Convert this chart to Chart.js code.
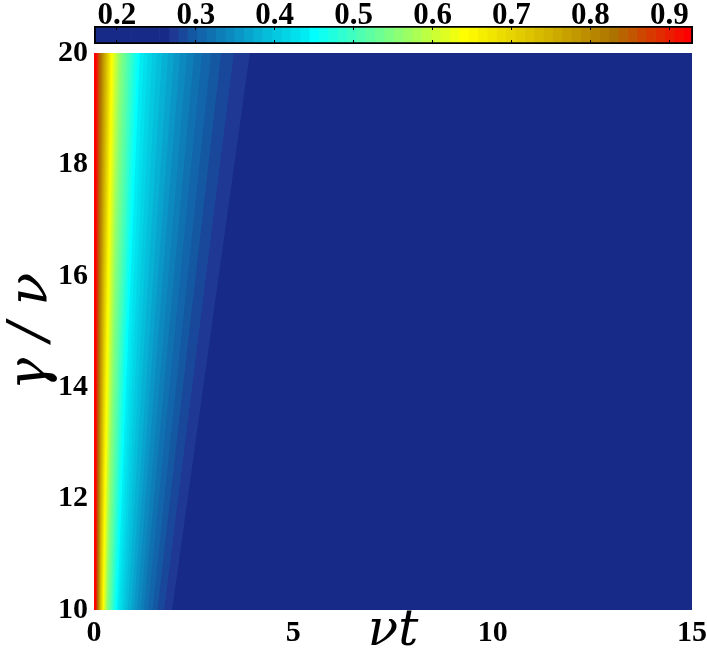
<!DOCTYPE html>
<html>
<head>
<meta charset="utf-8">
<script src="https://cdn.jsdelivr.net/npm/chart.js@4"></script>
<style>
  html, body { margin: 0; padding: 0; background: #fff; }
  #wrap { position: relative; width: 707px; height: 667px; }
  #wrap canvas { position: absolute; left: 0; top: 0; }
</style>
</head>
<body>
<div id="wrap">
  <canvas id="mapChart" width="707" height="667"></canvas>
  <canvas id="barChart" width="707" height="50"></canvas>
</div>
<script>
// axes
const X_TICKS = [0, 5, 10, 15];
const Y_TICKS = [10, 12, 14, 16, 18, 20];
const CB_TICKS = [0.2, 0.3, 0.4, 0.5, 0.6, 0.7, 0.8, 0.9];
const CB_MIN = 0.171;
const CB_MAX = 0.93;

const GAMMA_LO = 10;
const GAMMA_HI = 20;

// contour band edges (nu*t), colour index 8 .. 63, left of the edge is that colour or higher
const EDGE_T_LO = [
  1.96, 1.76, 1.59, 1.47, 1.35, 1.25, 1.17, 1.08, 1.00, 0.93, 0.85, 0.79, 0.73, 0.68, 0.63, 0.58,
  0.55, 0.52, 0.49, 0.47, 0.44, 0.42, 0.39, 0.37, 0.34,
  0.33, 0.31, 0.30, 0.28, 0.27, 0.255, 0.24,
  0.23, 0.22, 0.21, 0.20, 0.19, 0.18, 0.17, 0.163, 0.155, 0.147, 0.139, 0.131, 0.123, 0.115,
  0.107, 0.099, 0.091, 0.083, 0.076, 0.069, 0.062, 0.056, 0.050, 0.045
];
const EDGE_T_HI = [
  3.91, 3.51, 3.19, 2.94, 2.71, 2.51, 2.33, 2.16, 2.01, 1.86, 1.71, 1.58, 1.46, 1.35, 1.25, 1.15,
  1.09, 1.03, 0.98, 0.93, 0.88, 0.83, 0.78, 0.73, 0.68,
  0.645, 0.61, 0.58, 0.55, 0.52, 0.49, 0.46,
  0.44, 0.42, 0.40, 0.385, 0.37, 0.35, 0.33, 0.315, 0.30, 0.28, 0.26, 0.245, 0.225, 0.21,
  0.19, 0.175, 0.155, 0.14, 0.125, 0.11, 0.095, 0.08, 0.065, 0.055
];
const FIRST_BAND = 8;   // colour indices 0..7 are the flat floor

// colour map (64 steps), anchor colours, filled in between
const CMAP_STOPS = [
  [0, [23, 42, 136]], [7, [23, 42, 136]], [8, [30, 56, 148]], [10, [20, 88, 162]],
  [14, [12, 138, 192]], [18, [5, 190, 218]], [22, [0, 235, 242]], [23, [0, 255, 255]],
  [33, [155, 255, 100]], [39, [255, 255, 0]], [49, [205, 170, 0]], [55, [172, 115, 0]],
  [56, [185, 100, 0]], [63, [255, 0, 0]]
];

function buildCmap(stops, n) {
  const out = [];
  for (let i = 0; i < n; i++) {
    let k = 0;
    while (k < stops.length - 2 && stops[k + 1][0] < i) k++;
    const [i0, c0] = stops[k];
    const [i1, c1] = stops[k + 1];
    const f = i1 === i0 ? 0 : Math.min(1, Math.max(0, (i - i0) / (i1 - i0)));
    const c = c0.map((v, j) => Math.round(v + (c1[j] - v) * f));
    out.push(`rgb(${c[0]},${c[1]},${c[2]})`);
  }
  return out;
}

const CMAP = buildCmap(CMAP_STOPS, 64);

const SERIF = '"Liberation Serif", "Times New Roman", serif';
const TICK_FONT  = { family: SERIF, size: 30, weight: 'bold' };
const CB_FONT    = { family: SERIF, size: 31, weight: 'bold' };
const TITLE_FONT = { family: '"DejaVu Serif", serif', size: 50, style: 'italic', weight: 'normal' };
const YTITLE_FONT = { family: '"DejaVu Serif", serif', size: 54, style: 'italic', weight: 'normal' };

const fixTicks = list => scale => { scale.ticks = list.map(v => ({ value: v })); };

// ---- contour map ----
function bandDataset(tLo, tHi, color) {
  return {
    data: [{ x: tLo, y: GAMMA_LO }, { x: tHi, y: GAMMA_HI }],
    backgroundColor: color,
    borderColor: 'transparent',
    borderWidth: 0,
    pointRadius: 0,
    tension: 0,
    fill: { value: 0 },
  };
}

// floor first, then each higher band on top
const bands = [bandDataset(15, 15, CMAP[0])];
EDGE_T_LO.forEach((t, i) => bands.push(bandDataset(t, EDGE_T_HI[i], CMAP[FIRST_BAND + i])));
bands.reverse(); // dataset 0 is drawn last

new Chart(document.getElementById('mapChart'), {
  type: 'line',
  data: { datasets: bands },
  options: {
    indexAxis: 'y',
    responsive: false,
    animation: false,
    devicePixelRatio: 1,
    layout: { padding: { top: 53, right: 15, left: 0, bottom: 0 } },
    plugins: { legend: { display: false }, tooltip: { enabled: false } },
    scales: {
      x: {
        type: 'linear', min: 0, max: 15,
        afterBuildTicks: fixTicks(X_TICKS),
        afterFit: s => { s.height = 57; s.paddingLeft = 0; s.paddingRight = 0; },
        grid: { display: false, drawTicks: false },
        border: { display: false },
        ticks: { font: TICK_FONT, color: '#000', padding: 5, maxRotation: 0 },
        title: { display: true, text: 'νt', font: TITLE_FONT, color: '#000', padding: { top: 0, bottom: 5 } },
      },
      y: {
        type: 'linear', min: 10, max: 20,
        afterBuildTicks: fixTicks(Y_TICKS),
        afterFit: s => { s.width = 94; },
        grid: { display: false, drawTicks: false },
        border: { display: false },
        ticks: { font: TICK_FONT, color: '#000', padding: 6 },
        title: { display: true, text: 'γ / ν', font: YTITLE_FONT, color: '#000', padding: { top: 0, bottom: 0 } },
      },
    },
  },
});

// ---- colour bar ----
const cbStep = (CB_MAX - CB_MIN) / CMAP.length;
const cbSegments = CMAP.map((c, i) => ({
  data: [[CB_MIN + i * cbStep, CB_MIN + (i + 1) * cbStep]],
  backgroundColor: c,
  borderWidth: 0,
  barPercentage: 1,
  categoryPercentage: 1,
  grouped: false,
}));
const cbOutline = {
  data: [[CB_MIN, CB_MAX]],
  backgroundColor: 'transparent',
  borderColor: '#000',
  borderWidth: 1.5,
  borderSkipped: false,
  barPercentage: 1,
  categoryPercentage: 1,
  grouped: false,
  order: -1,
};

const cbGrid = { display: true, drawOnChartArea: false, drawTicks: true, tickLength: -4, color: '#000', lineWidth: 1, z: 1 };

new Chart(document.getElementById('barChart'), {
  type: 'bar',
  data: { labels: [''], datasets: [...cbSegments, cbOutline] },
  options: {
    indexAxis: 'y',
    responsive: false,
    animation: false,
    devicePixelRatio: 1,
    layout: { padding: { top: 0, right: 14, left: 94, bottom: 6 } },
    plugins: { legend: { display: false }, tooltip: { enabled: false } },
    scales: {
      x: {
        type: 'linear', position: 'top', min: CB_MIN, max: CB_MAX,
        afterBuildTicks: fixTicks(CB_TICKS),
        afterFit: s => { s.height = 26; s.paddingLeft = 0; s.paddingRight = 0; },
        grid: cbGrid,
        border: { display: false },
        ticks: { font: CB_FONT, color: '#000', padding: -5, maxRotation: 0, callback: v => v.toFixed(1) },
      },
      x2: {
        type: 'linear', position: 'bottom', min: CB_MIN, max: CB_MAX,
        afterBuildTicks: fixTicks(CB_TICKS),
        afterFit: s => { s.height = 0; s.paddingLeft = 0; s.paddingRight = 0; },
        grid: cbGrid,
        border: { display: false },
        ticks: { display: false },
      },
      y: { display: false },
    },
  },
});
</script>
</body>
</html>
